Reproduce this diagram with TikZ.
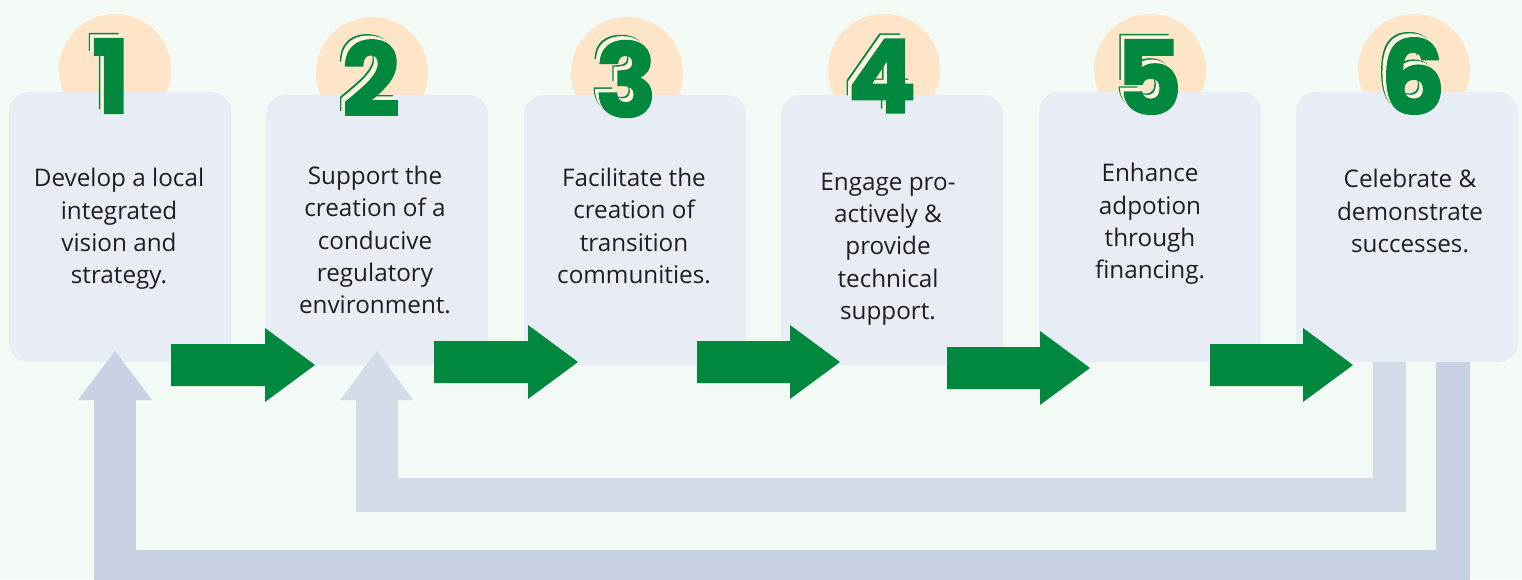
\documentclass[tikz,border=0pt]{standalone}
\usepackage{fontspec}
\setmainfont{Open Sans}
\newfontfamily\digitfont{Poppins}[BoldFeatures={FakeBold=1.6}]
\usetikzlibrary{calc, positioning}
\definecolor{bgmint}{HTML}{F3F9F4}
\definecolor{boxgrey}{HTML}{E8ECF5}
\definecolor{peach}{HTML}{FEE5C7}
\definecolor{cream}{HTML}{FFF3E2}
\definecolor{leafgreen}{HTML}{00883F}
\definecolor{innerloop}{HTML}{D4DAE8}
\definecolor{outerloop}{HTML}{C9D1E5}
\tikzset{
  stepbox/.style={fill=boxgrey, rounded corners=0.2cm, minimum width=2.22cm,
    minimum height=2.7cm, inner sep=0pt},
  badge/.style={circle, fill=peach, minimum size=1.12cm, inner sep=0pt},
  steptext/.style={align=center, inner sep=0pt, text=black!88,
    font=\fontsize{6.9}{9.2}\selectfont},
  digit/.style={inner sep=0pt, font=\digitfont\bfseries\fontsize{29}{29}\selectfont},
}
% big number with an offset outline behind it
\newcommand{\stepnum}[3]{%
  \node[digit, text=leafgreen] at ($(#2)+(-5,-5)$) {#3};
  \node[digit, text=cream] at ($(#2)+(-3.6,-3.6)$) {#3};
  \node[digit, text=leafgreen] (#1) at (#2) {#3};}
% green block arrow from tail to tip
\newcommand{\greenarrow}[2]{%
  \fill[leafgreen] ($(#1)+(0,-21)$) -- ($(#2)+(-50,-21)$) -- ($(#2)+(-50,-37)$)
    -- (#2) -- ($(#2)+(-50,37)$) -- ($(#2)+(-50,21)$) -- ($(#1)+(0,21)$) -- cycle;}

\begin{document}
\begin{tikzpicture}[x=0.01cm, y=-0.01cm]
    \fill[bgmint] (0,0) rectangle (1522,579);
    \useasboundingbox (0,0) rectangle (1522,579);

    % badges behind the boxes
    \node[badge] (c1) at (115,70) {};
    \node[badge] (c2) at (372,73) {};
    \node[badge] (c3) at (627,73) {};
    \node[badge] (c4) at (884,70) {};
    \node[badge] (c5) at (1150,70) {};
    \node[badge] (c6) at (1414,70) {};

    % steps
    \node[stepbox] (b1) at (120,227) {};
    \node[stepbox] (b2) at (377,230) {};
    \node[stepbox] (b3) at (635,230) {};
    \node[stepbox] (b4) at (892,230) {};
    \node[stepbox] (b5) at (1150,227) {};
    \node[stepbox] (b6) at (1407,227) {};

    \node[steptext] (t1) at (119,229) {Develop a local\\integrated\\vision and\\strategy.};
    \node[steptext] (t2) at (375,240) {Support the\\creation of a\\conducive\\regulatory\\environment.};
    \node[steptext] (t3) at (634,226) {Facilitate the\\creation of\\transition\\communities.};
    \node[steptext] (t4) at (888,249) {Engage pro-\\actively \&\\provide\\technical\\support.};
    \node[steptext] (t5) at (1150,224) {Enhance\\adpotion\\through\\financing.};
    \node[steptext] (t6) at (1410,211) {Celebrate \&\\demonstrate\\successes.};

    \coordinate (n1) at ($(c1)+(-4,6)$);
    \coordinate (n2) at ($(c2)+(-1,5)$);
    \coordinate (n3) at ($(c3)+(-1,6)$);
    \coordinate (n4) at ($(c4)+(-2,6)$);
    \coordinate (n5) at ($(c5)+(-1,7)$);
    \coordinate (n6) at ($(c6)+(-1,6)$);
    \stepnum{d1}{n1}{1}
    \stepnum{d2}{n2}{2}
    \stepnum{d3}{n3}{3}
    \stepnum{d4}{n4}{4}
    \stepnum{d5}{n5}{5}
    \stepnum{d6}{n6}{6}

    % feedback loops
    \coordinate (out6) at (1453,362);
    \coordinate (out1) at (115,351);
    \coordinate (in6) at (1389.5,362);
    \coordinate (in2) at (377,351);
    \draw[outerloop, line width=0.34cm, line join=miter] (out6) |- ($(out1)+(-21,216)$);
    \draw[outerloop, line width=0.42cm] ($(out1)+(0,233)$) -- ($(out1)+(0,48)$);
    \fill[outerloop] ($(out1)+(-37,49)$) -- (out1) -- ($(out1)+(37,49)$) -- cycle;
    \draw[innerloop, line width=0.335cm, line join=miter] (in6) |- ($(in2)+(-21,144)$);
    \draw[innerloop, line width=0.42cm] ($(in2)+(0,161)$) -- ($(in2)+(0,48)$);
    \fill[innerloop] ($(in2)+(-37,49)$) -- (in2) -- ($(in2)+(36,49)$) -- cycle;

    % forward arrows
    \coordinate (a1) at (171,365);  \coordinate (a2) at (315,365);
    \coordinate (a3) at (434,362);  \coordinate (a4) at (578,362);
    \coordinate (a5) at (697,362);  \coordinate (a6) at (840,362);
    \coordinate (a7) at (947,368);  \coordinate (a8) at (1090,368);
    \coordinate (a9) at (1210,365); \coordinate (a10) at (1353,365);
    \greenarrow{a1}{a2}
    \greenarrow{a3}{a4}
    \greenarrow{a5}{a6}
    \greenarrow{a7}{a8}
    \greenarrow{a9}{a10}
\end{tikzpicture}
\end{document}
